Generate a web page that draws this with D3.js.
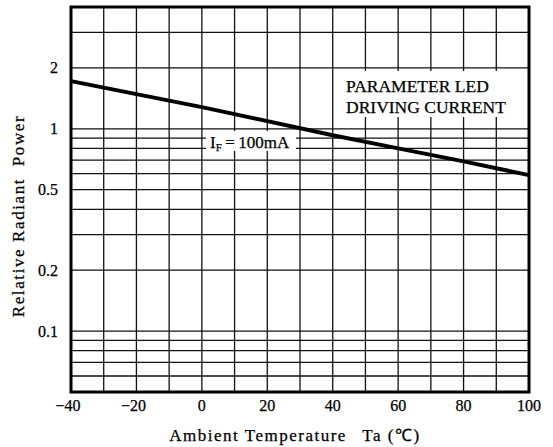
<!DOCTYPE html>
<html><head><meta charset="utf-8">
<script src="https://cdn.jsdelivr.net/npm/d3@7"></script>
<style>body{margin:0;background:#fff}svg{display:block}</style>
</head><body>
<script>
// Data
const temps = [-40, 0, 40, 60, 80, 100];
const power = [1.72, 1.28, 0.93, 0.80, 0.69, 0.59];
const xTicks = [-40, -20, 0, 20, 40, 60, 80, 100];
const xTickLabels = ["\u221240", "\u221220", "0", "20", "40", "60", "80", "100"];
const xGrid = [-30, -20, -10, 0, 10, 20, 30, 40, 50, 60, 70, 80, 90];
const yTicks = [2, 1, 0.5, 0.2, 0.1];
const yTickLabels = ["2", "1", "0.5", "0.2", "0.1"];
const yGrid = [0.06, 0.07, 0.08, 0.09, 0.1, 0.2, 0.3, 0.4, 0.5, 0.6, 0.7, 0.8, 0.9, 1, 2, 3];

(function () {
const W = 553, H = 447;
const pL = 71, pR = 529, pT = 7, pB = 392;
const svg = d3.select("body").append("svg").attr("width", W).attr("height", H);
const x = d3.scaleLinear().domain([-40, 100]).range([pL, pR]);
const y = d3.scaleLog().domain([0.05, 4]).range([pB, pT]);
const font = "'Liberation Serif', 'Times New Roman', serif";

// grid
svg.append("g").selectAll("line").data(xGrid).join("line")
  .attr("x1", d => x(d)).attr("x2", d => x(d)).attr("y1", pT).attr("y2", pB)
  .attr("stroke", "#111").attr("stroke-width", 1.3);
svg.append("g").selectAll("line").data(yGrid).join("line")
  .attr("x1", pL).attr("x2", pR).attr("y1", d => y(d)).attr("y2", d => y(d))
  .attr("stroke", "#111").attr("stroke-width", 1.3);

// white label boxes
svg.append("rect").attr("x", 338).attr("y", 71).attr("width", 178).attr("height", 46).attr("fill", "#fff");
svg.append("rect").attr("x", 206).attr("y", 131).attr("width", 90).attr("height", 20).attr("fill", "#fff");

// curve
const pts = temps.map((t, i) => [t, power[i]]);
svg.append("path").datum(pts)
  .attr("d", d3.line().x(d => x(d[0])).y(d => y(d[1])))
  .attr("fill", "none").attr("stroke", "#000").attr("stroke-width", 4);

// frame
svg.append("rect").attr("x", pL).attr("y", pT).attr("width", pR - pL).attr("height", pB - pT)
  .attr("fill", "none").attr("stroke", "#000").attr("stroke-width", 3);

const txt = sel => sel.attr("font-family", font).attr("fill", "#000")
  .attr("stroke", "#000").attr("stroke-width", 0.25);

// x tick labels
svg.append("g").selectAll("text").data(xTicks).join("text")
  .attr("x", d => x(d) + (d < 0 ? -3 : 0)).attr("y", 411)
  .attr("text-anchor", "middle").attr("font-size", 16).call(txt)
  .text((d, i) => xTickLabels[i]);

// y tick labels
svg.append("g").selectAll("text").data(yTicks).join("text")
  .attr("x", 58).attr("y", d => y(d)).attr("dy", "0.35em")
  .attr("text-anchor", "end").attr("font-size", 16).call(txt)
  .text((d, i) => yTickLabels[i]);

// axis titles
svg.append("text").attr("x", 295).attr("y", 441).attr("text-anchor", "middle")
  .attr("font-size", 17).attr("letter-spacing", 1.5).call(txt)
  .attr("xml:space", "preserve")
  .text("Ambient Temperature\u2002 Ta (\u2103)");
svg.append("text").attr("transform", "translate(24,216) rotate(-90)").attr("text-anchor", "middle")
  .attr("font-size", 17).attr("letter-spacing", 1.6).call(txt)
  .attr("xml:space", "preserve")
  .text("Relative Radiant  Power");

// annotations
const ann = svg.append("text").attr("x", 210).attr("y", 148).attr("font-size", 17).call(txt);
ann.append("tspan").text("I");
ann.append("tspan").attr("font-size", 11).attr("dy", 3).text("F");
ann.append("tspan").attr("dy", -3).text("\u2009=\u2009100mA");

svg.append("text").attr("x", 346).attr("y", 92).attr("font-size", 17.5).call(txt)
  .text("PARAMETER LED");
svg.append("text").attr("x", 346).attr("y", 113).attr("font-size", 17.5).call(txt)
  .text("DRIVING CURRENT");
})();
</script>
</body></html>
